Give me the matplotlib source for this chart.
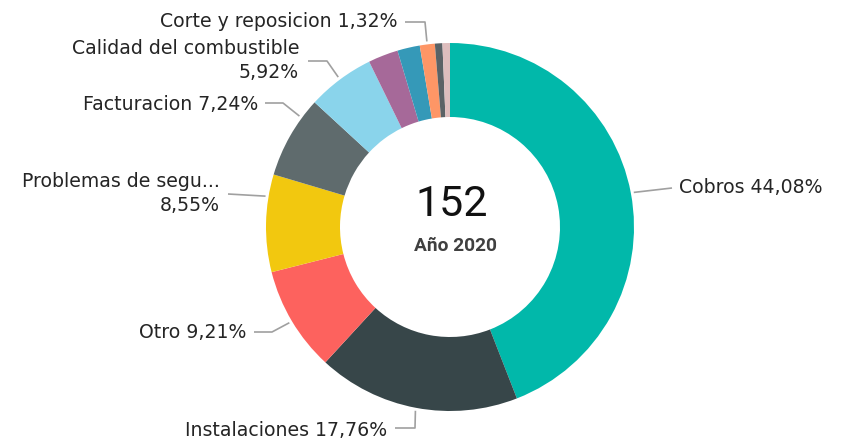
import numpy as np
import matplotlib.pyplot as plt

plt.rcParams['font.family'] = ['DejaVu Sans']

# complaints by category, year 2020
categories = ["Cobros", "Instalaciones", "Otro", "Problemas de seguridad",
              "Facturacion", "Calidad del combustible", "Medidores",
              "Atencion al cliente", "Corte y reposicion", "Precio", "Fugas"]
counts = [67, 27, 14, 13, 11, 9, 4, 3, 2, 1, 1]
colors = ["#01B8AA", "#374649", "#FD625E", "#F2C80F", "#5F6B6D", "#8AD4EB",
          "#A66999", "#3599B8", "#FE9666", "#5A6266", "#DDBDBD"]
year_label = "Año 2020"

W, H = 844, 444
CX, CY, R, RING = 450, 227, 184, 74
TXT = "#252525"
LINE = "#a0a0a0"
FS = 13.6

# where each visible label sits (pixel coords, y measured from the top)
# frac: where along the wedge the leader line attaches
layout = {
    "Cobros": dict(xy=(679, 187), ha="left", frac=0.5, path=[(672, 188)]),
    "Instalaciones": dict(xy=(387, 430), ha="right", frac=0.5,
                          path=[(415, 428), (395, 428)]),
    "Otro": dict(xy=(246, 332), ha="right", frac=0.5,
                 path=[(272, 332), (254, 332)]),
    "Problemas de seguridad": dict(xy=(220, 181), ha="right", frac=0.77,
                                   path=[(228, 194)], wrap=True, cut=17),
    "Facturacion": dict(xy=(258, 104), ha="right", frac=0.76,
                        path=[(283, 103), (265, 103)]),
    "Calidad del combustible": dict(xy=(299, 48), ha="right", frac=0.5,
                                    path=[(327, 61), (308, 61)], wrap=True),
    "Corte y reposicion": dict(xy=(398, 21), ha="right", frac=0.5,
                               path=[(425, 22), (405, 22)]),
}


def fy(y):
    return H - y


fig = plt.figure(figsize=(W / 100, H / 100), dpi=100)
ax = fig.add_axes([0, 0, 1, 1])

wedges, _ = ax.pie(counts, colors=colors, startangle=90, counterclock=False,
                   radius=R, center=(CX, fy(CY)),
                   wedgeprops=dict(width=RING, edgecolor="none"))

ax.set_xlim(0, W)
ax.set_ylim(0, H)
ax.set_aspect("equal")
ax.axis("off")

total = sum(counts)
for name, n, w in zip(categories, counts, wedges):
    if name not in layout:
        continue
    opt = layout[name]
    pct = f"{100 * n / total:.2f}%".replace(".", ",")

    # leader line from the outer edge of the wedge
    ang = np.radians(w.theta2 - opt["frac"] * (w.theta2 - w.theta1))
    px = [CX + (R + 3) * np.cos(ang)]
    py = [fy(CY) + (R + 3) * np.sin(ang)]
    for x, y in opt["path"]:
        px.append(x)
        py.append(fy(y))
    ax.plot(px, py, color=LINE, lw=1.2, solid_capstyle="butt")

    tx, ty = opt["xy"]
    if opt.get("wrap"):
        cut = opt.get("cut")
        shown = name[:cut] + "..." if cut else name
        ax.text(tx, fy(ty), shown, ha=opt["ha"], va="center",
                fontsize=FS, color=TXT)
        ax.text(tx, fy(ty + 24), pct, ha=opt["ha"], va="center",
                fontsize=FS, color=TXT)
    else:
        ax.text(tx, fy(ty), f"{name} {pct}", ha=opt["ha"], va="center",
                fontsize=FS, color=TXT)

# total in the middle of the ring
ax.text(CX + 2, fy(204), str(total), ha="center", va="center",
        fontsize=31, color="#111111", family="Roboto")
ax.text(CX + 5, fy(246), year_label, ha="center", va="center",
        fontsize=13.8, fontweight="bold", color="#404040", family="Roboto")

fig.savefig("out.png", dpi=100, facecolor="white")
